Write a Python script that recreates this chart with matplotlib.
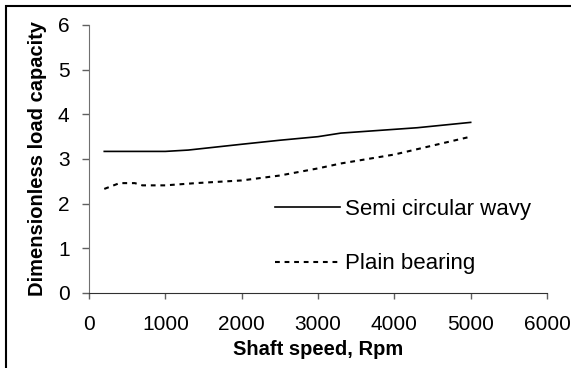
import matplotlib
matplotlib.use('Agg')
import matplotlib.pyplot as plt
from matplotlib.patches import Rectangle

# Valores
speed_wavy = [200, 1000, 1300, 2000, 2500, 3000, 3300, 4300, 5000]
load_wavy = [3.17, 3.17, 3.20, 3.33, 3.42, 3.50, 3.58, 3.70, 3.82]

speed_plain = [200, 400, 600, 700, 1000, 1400, 2000, 2500, 3000, 3300, 4000, 4300, 4500, 5000]
load_plain = [2.33, 2.46, 2.46, 2.41, 2.41, 2.46, 2.52, 2.63, 2.79, 2.90, 3.10, 3.22, 3.30, 3.50]

x_ticks = [0, 1000, 2000, 3000, 4000, 5000, 6000]
y_ticks = [0, 1, 2, 3, 4, 5, 6]

plt.rcParams['font.family'] = ['Liberation Sans', 'DejaVu Sans']

fig = plt.figure(figsize=(5.71, 3.68), dpi=100)
ax = fig.add_axes([89 / 571, 75 / 368, 458 / 571, 268 / 368])

ax.plot(speed_wavy, load_wavy, color='black', lw=1.2, label='Semi circular wavy')
ax.plot(speed_plain, load_plain, color='black', lw=1.5, dashes=(2.3, 2.3),
        label='Plain bearing')

ax.set_xlim(0, 6000)
ax.set_ylim(0, 6)
ax.set_xticks(x_ticks)
ax.set_yticks(y_ticks)
ax.tick_params(labelsize=15, width=1, color='#606060')
ax.tick_params(axis='x', length=4, pad=12)
ax.tick_params(axis='y', length=5, pad=9)
ax.spines['top'].set_visible(False)
ax.spines['right'].set_visible(False)
ax.spines['left'].set_color('#707070')
ax.spines['bottom'].set_color('#303030')

ax.set_xlabel('Shaft speed, Rpm', fontsize=14.5, fontweight='bold', labelpad=4)
ax.set_ylabel('Dimensionless load capacity', fontsize=14.5, fontweight='bold', labelpad=8)

fig.legend(loc='upper left', bbox_to_anchor=(275 / 571, 1 - 199 / 368),
           frameon=False, fontsize=16, handlelength=2.93, handletextpad=0.2,
           labelspacing=1.5, borderpad=0, borderaxespad=0)

# moldura da figura (só aparecem os lados esquerdo e superior)
fig.patches.append(Rectangle((6 / 571, -0.1), 1.2, 1 - 6 / 368 + 0.1,
                             transform=fig.transFigure, fill=False,
                             edgecolor='black', lw=1.5, clip_on=False))

fig.savefig('out.png', dpi=100)
